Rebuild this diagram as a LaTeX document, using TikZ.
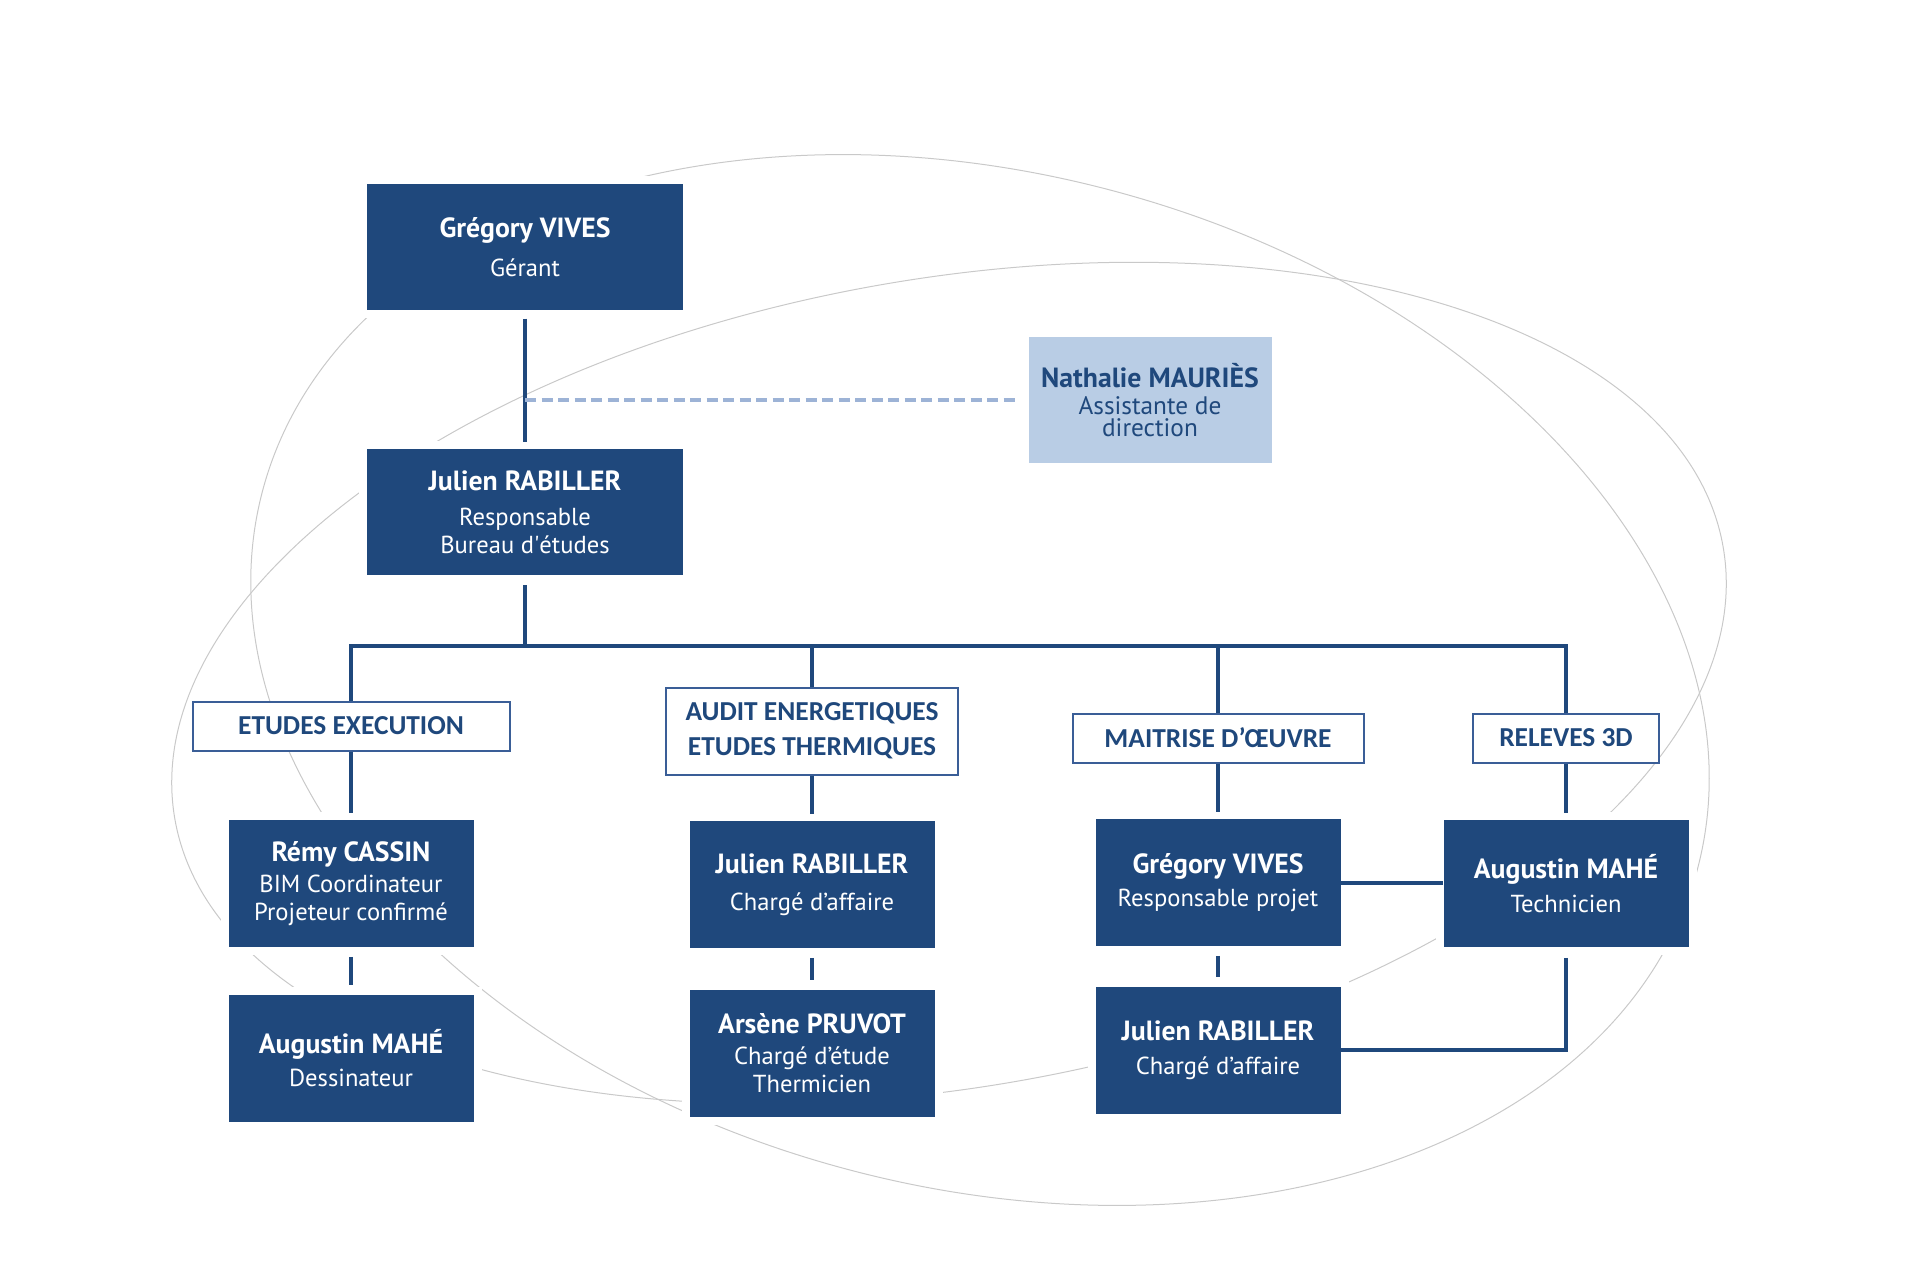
\documentclass[tikz,border=0pt]{standalone}
\usepackage{fontspec}
\setmainfont{PT Sans}
\newfontfamily\hdrfont{Carlito}
\usetikzlibrary{positioning}
\definecolor{navy}{HTML}{1F487C}
\definecolor{paleblue}{HTML}{B9CDE5}
\definecolor{dashblue}{HTML}{9DB3D6}
\definecolor{ringgray}{HTML}{C9C9C9}
\definecolor{hdrline}{HTML}{3A5E97}
\tikzset{
	person/.style={fill=navy, text=white, align=center, minimum width=24.5mm, minimum height=12.7mm, inner sep=0.5mm, font=\fontsize{7}{8}\selectfont, preaction={draw=white, line width=1.6mm}},
	chief/.style={person, minimum width=31.6mm, minimum height=12.6mm},
	assist/.style={fill=paleblue, text=navy, align=center, minimum width=24.3mm, minimum height=12.6mm, inner sep=0.5mm, font=\fontsize{7.2}{6.3}\selectfont},
	dept/.style={draw=hdrline, line width=0.2mm, fill=white, text=navy, align=center, minimum height=4.9mm, inner sep=0.5mm, font=\hdrfont\bfseries\fontsize{7.8}{10}\selectfont},
	link/.style={draw=navy, line width=0.4mm},
	aide/.style={draw=dashblue, line width=0.4mm, dash pattern=on 1.1mm off 0.55mm},
	ring/.style={draw=ringgray, line width=0.1mm}
}
\newcommand{\nm}[1]{{\fontsize{7.9}{8}\selectfont\bfseries #1}}

\begin{document}
\begin{tikzpicture}[x=0.1mm, y=-0.1mm]
		\useasboundingbox (0,0) rectangle (1920,1280);

		\draw [ring, rotate around={-14.7:(980,680)}] (980,680) ellipse [x radius=74.2mm, y radius=50.7mm];
		\draw [ring, rotate around={10:(949,683)}] (949,683) ellipse [x radius=78.6mm, y radius=40.4mm];

		\node [chief] (gerant) at (525,247) {\nm{Grégory VIVES}\\[3pt]Gérant};
		\node [chief, below = 13.8mm of gerant] (resp) {\nm{Julien RABILLER}\\[2pt]Responsable\\Bureau d\textquotesingle études};
		\node [assist] (nathalie) at (1150,400) {\nm{Nathalie MAURIÈS}\\[1.5pt]Assistante de\\direction};

		\node [dept, minimum width=31.7mm] (etudes) at (351,726) {ETUDES EXECUTION};
		\node [dept, minimum width=29.2mm, minimum height=8.7mm] (audit) at (812,731) {AUDIT ENERGETIQUES\\ETUDES THERMIQUES};
		\node [dept, minimum width=29.1mm] (maitrise) at (1218,738) {MAITRISE D’ŒUVRE};
		\node [dept, minimum width=18.6mm] (releves) at (1566,738) {RELEVES 3D};

		\node [person, below = 6.8mm of etudes] (remy) {\nm{Rémy CASSIN}\\[1pt]BIM Coordinateur\\Projeteur confirmé};
		\node [person, below = 4.6mm of remy] (augD) {\nm{Augustin MAHÉ}\\[1.5pt]Dessinateur};
		\node [person, below = 4.5mm of audit] (julC) {\nm{Julien RABILLER}\\[2.5pt]Chargé d’affaire};
		\node [person, below = 4mm of julC] (arsene) {\nm{Arsène PRUVOT}\\[1pt]Chargé d’étude\\Thermicien};
		\node [person, below = 5.5mm of maitrise] (gregP) {\nm{Grégory VIVES}\\[1.5pt]Responsable projet};
		\node [person, below = 3.9mm of gregP] (julMO) {\nm{Julien RABILLER}\\[1.5pt]Chargé d’affaire};
		\node [person, below = 5.6mm of releves] (augT) {\nm{Augustin MAHÉ}\\[1.5pt]Technicien};

		\coordinate [below = 7mm of resp] (bus);
		\coordinate (tap) at (gerant.south |- nathalie.west);

		\path [every edge/.append style={link}]
		(gerant) edge [shorten <=0.8mm, shorten >=0.7mm] (resp)
		(resp) edge [shorten <=0.9mm] (bus)
		(etudes) edge [shorten >=0.7mm] (remy)
		(audit) edge [shorten >=0.7mm] (julC)
		(maitrise) edge [shorten >=0.7mm] (gregP)
		(releves) edge [shorten >=0.7mm] (augT)
		(remy) edge [shorten <=0.9mm, shorten >=0.9mm] (augD)
		(julC) edge [shorten <=0.9mm, shorten >=0.9mm] (arsene)
		(gregP) edge [shorten <=0.9mm, shorten >=0.9mm] (julMO);

		\draw [link] (etudes.north) |- (bus) -| (releves.north);
		\draw [link] (audit.north) -- (audit.north |- bus);
		\draw [link] (maitrise.north) -- (maitrise.north |- bus);
		\draw [link] (gregP.east) -- (gregP.east -| augT.west);
		\draw [link, shorten <=1mm] (augT.south) |- (julMO.east);
		\draw [aide, shorten >=1mm] (tap) -- (nathalie.west);

	\end{tikzpicture}
\end{document}
